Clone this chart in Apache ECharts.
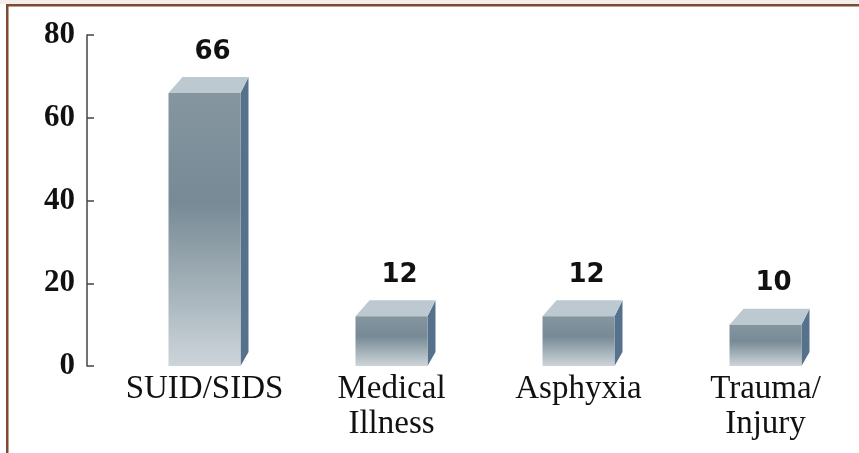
<!DOCTYPE html>
<html>
<head>
<meta charset="utf-8">
<script src="https://cdn.jsdelivr.net/npm/echarts@6/dist/echarts.min.js"></script>
<style>
  html, body { margin: 0; padding: 0; background: #fff; }
  #main { width: 859px; height: 453px; }
</style>
</head>
<body>
<div id="main"></div>
<script>
// causes of death, counts
var categories = ['SUID/SIDS', 'Medical\nIllness', 'Asphyxia', 'Trauma/\nInjury'];
var deaths = [66, 12, 12, 10];
var yMax = 80;
var yStep = 20;

var chart = echarts.init(document.getElementById('main'), null, { renderer: 'canvas' });

var BAR_W = 72;   // front face width
var DX_L = 14;    // back-left shift
var DX_R = 8;     // back-right shift
var DY = 16;      // depth going up

function renderBox(params, api) {
  var idx = api.value(0);
  var val = api.value(1);
  var top = api.coord([idx, val]);
  var base = api.coord([idx, 0]);
  var xl = top[0] - BAR_W / 2;
  var xr = top[0] + BAR_W / 2;
  var yt = top[1];
  var yb = base[1];
  return {
    type: 'group',
    children: [
      {
        type: 'polygon',
        shape: { points: [[xr, yt], [xr + DX_R, yt - DY], [xr + DX_R, yb - DY + 2], [xr, yb]] },
        style: { fill: '#56718c' }
      },
      {
        type: 'polygon',
        shape: { points: [[xl, yt], [xl + DX_L, yt - DY], [xr + DX_R, yt - DY], [xr, yt]] },
        style: { fill: '#bdc9d1' }
      },
      {
        type: 'rect',
        shape: { x: xl, y: yt, width: BAR_W, height: yb - yt },
        style: {
          fill: new echarts.graphic.LinearGradient(0, 0, 0, 1, [
            { offset: 0, color: '#8596a0' },
            { offset: 0.4, color: '#778a95' },
            { offset: 1, color: '#cdd5da' }
          ])
        }
      },
      {
        type: 'text',
        style: {
          text: String(val),
          x: top[0] + 8,
          y: yt - DY - 25,
          align: 'center',
          verticalAlign: 'middle',
          font: 'bold 26px "DejaVu Sans"',
          fill: '#111'
        }
      }
    ]
  };
}

var option = {
  animation: false,
  backgroundColor: '#fff',
  grid: { left: 111, width: 752, top: 35, bottom: 87 },
  xAxis: {
    type: 'category',
    data: categories,
    axisLine: { show: false },
    axisTick: { show: false },
    axisLabel: {
      margin: 6,
      color: '#111',
      fontFamily: 'Liberation Serif',
      fontSize: 33,
      lineHeight: 35,
      interval: 0
    }
  },
  yAxis: {
    type: 'value',
    min: 0,
    max: yMax,
    interval: yStep,
    offset: 24,
    splitLine: { show: false },
    axisLine: { show: true, lineStyle: { color: '#444', width: 1.5 } },
    axisTick: { show: true, inside: true, length: 7, lineStyle: { color: '#444', width: 1.5 } },
    axisLabel: {
      margin: 12,
      color: '#111',
      fontFamily: 'Liberation Serif',
      fontWeight: 'bold',
      fontSize: 31
    }
  },
  graphic: [
    { type: 'rect', shape: { x: 0, y: 0, width: 859, height: 4 }, style: { fill: '#f3eee9' } },
    { type: 'rect', shape: { x: 6, y: 4, width: 853, height: 2.5 }, style: { fill: '#7d4b33' } },
    { type: 'rect', shape: { x: 6, y: 4, width: 2.5, height: 449 }, style: { fill: '#7d4b33' } }
  ],
  series: [
    {
      type: 'custom',
      renderItem: renderBox,
      data: deaths.map(function (v, i) { return [i, v]; })
    }
  ]
};

chart.setOption(option);
</script>
</body>
</html>
